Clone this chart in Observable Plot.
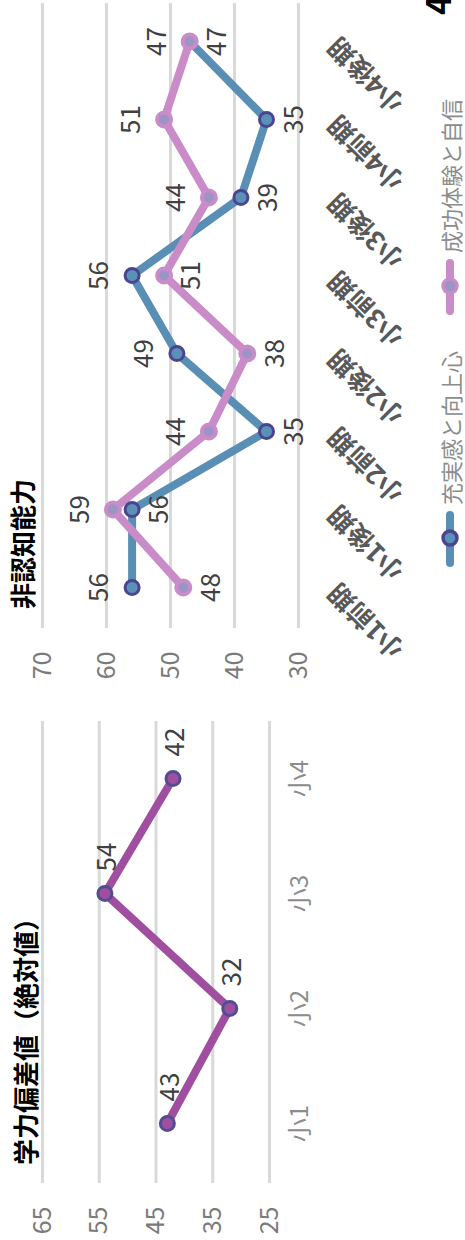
<!DOCTYPE html>
<html><head><meta charset="utf-8">
<script src="https://cdn.jsdelivr.net/npm/d3@7"></script>
<script src="https://cdn.jsdelivr.net/npm/@observablehq/plot@0.6"></script>
<style>
html,body{margin:0;padding:0;background:#fff;overflow:hidden;width:465px;height:1240px;}
#frame{position:absolute;left:0;top:0;width:1240px;height:465px;transform-origin:0 0;transform:translate(0px,1240px) rotate(-90deg);background:#fff;overflow:hidden;font-family:"Noto Sans CJK JP","Noto Sans",sans-serif;}
.chart{position:absolute;top:0;}
.title{position:absolute;font-weight:bold;font-size:26px;color:#000;line-height:1;white-space:nowrap;}
.legend{position:absolute;top:438px;height:24px;display:flex;align-items:center;font-size:22px;color:#8c8c8c;white-space:nowrap;line-height:1;}
.legend svg{display:block;margin-right:6px;}
.cut{position:absolute;font-weight:bold;font-size:34px;line-height:1;color:#000;}
</style></head>
<body><div id="frame"></div>
<script>
// ---- 学力偏差値（絶対値） ----
const gakuryokuTitle = "学力偏差値（絶対値）";
const gakuryokuCategories = ["小1", "小2", "小3", "小4"];
const gakuryokuValues = [43, 32, 54, 42];
const gakuryokuTicks = [25, 35, 45, 55, 65];

// ---- 非認知能力 ----
const hininchiTitle = "非認知能力";
const hininchiCategories = ["小1前期", "小1後期", "小2前期", "小2後期", "小3前期", "小3後期", "小4前期", "小4後期"];
const seriesNames = ["充実感と向上心", "成功体験と自信"];
const jujitsuValues = [56, 56, 35, 49, 56, 39, 35, 47];
const seikouValues = [48, 59, 44, 38, 51, 44, 51, 47];
const hininchiTicks = [30, 40, 50, 60, 70];

const FONT = '"Noto Sans CJK JP","Noto Sans",sans-serif';
const frame = document.getElementById("frame");

function addDiv(cls, left, top, html) {
  const d = document.createElement("div");
  d.className = cls;
  d.style.left = left + "px";
  if (top !== null) d.style.top = top + "px";
  d.innerHTML = html;
  frame.appendChild(d);
  return d;
}

// Chart A
const gData = gakuryokuCategories.map((c, i) => ({cat: c, value: gakuryokuValues[i]}));
const chartA = Plot.plot({
  width: 570, height: 465,
  marginLeft: 57, marginRight: 51, marginTop: 42, marginBottom: 196,
  style: {fontFamily: FONT, background: "transparent", overflow: "visible"},
  x: {type: "point", domain: gakuryokuCategories, padding: 0.5},
  y: {domain: [25, 65]},
  marks: [
    Plot.gridY(gakuryokuTicks, {stroke: "#d9d9d9", strokeOpacity: 1, strokeWidth: 3}),
    Plot.axisY(gakuryokuTicks, {tickSize: 0, tickPadding: 24, fontSize: 25, fill: "#7a7a7a", label: null}),
    Plot.axisX({ticks: [], label: null}),
    Plot.text(gakuryokuCategories, {x: d => d, frameAnchor: "bottom", dy: 38, fontSize: 24, fill: "#8c8c8c"}),
    Plot.line(gData, {x: "cat", y: "value", stroke: "#a04fa0", strokeWidth: 8}),
    Plot.dot(gData, {x: "cat", y: "value", r: 7, fill: "#a04fa0", stroke: "#4f4f8f", strokeWidth: 3}),
    Plot.text(gData, {x: "cat", y: "value", text: d => String(d.value), textAnchor: "start", dx: 22, dy: 3, fontSize: 26, fill: "#404040"})
  ]
});
const wa = document.createElement("div");
wa.className = "chart"; wa.style.left = "0px"; wa.style.width = "570px";
wa.appendChild(chartA); frame.appendChild(wa);

// Chart B
const blue = {line: "#5a8fb5", fill: "#5b90b8", stroke: "#4b4490"};
const pink = {line: "#c98cc9", fill: "#9a95c4", stroke: "#c98cc9"};
const bData = hininchiCategories.flatMap((c, i) => [
  {cat: c, series: seriesNames[0], value: jujitsuValues[i], other: seikouValues[i], pink: false},
  {cat: c, series: seriesNames[1], value: seikouValues[i], other: jujitsuValues[i], pink: true}
]);
bData.forEach(d => { d.above = d.value > d.other || (d.value === d.other && d.pink); });
const blueData = bData.filter(d => !d.pink);
const pinkData = bData.filter(d => d.pink);
const chartB = Plot.plot({
  width: 680, height: 465,
  marginLeft: 52, marginRight: 3, marginTop: 42, marginBottom: 167,
  style: {fontFamily: FONT, background: "transparent", overflow: "visible"},
  x: {type: "point", domain: hininchiCategories, padding: 0.5},
  y: {domain: [30, 70]},
  marks: [
    Plot.gridY(hininchiTicks, {stroke: "#d9d9d9", strokeOpacity: 1, strokeWidth: 3}),
    Plot.axisY(hininchiTicks, {tickSize: 0, tickPadding: 24, fontSize: 25, fill: "#7a7a7a", label: null}),
    Plot.axisX({ticks: [], label: null}),
    Plot.text(hininchiCategories, {x: d => d, frameAnchor: "bottom", dy: 35, rotate: -45, textAnchor: "end", lineAnchor: "middle", fontSize: 26, fontWeight: "bold", fill: "#595959"}),
    Plot.line(blueData, {x: "cat", y: "value", stroke: blue.line, strokeWidth: 8}),
    Plot.line(pinkData, {x: "cat", y: "value", stroke: pink.line, strokeWidth: 8}),
    Plot.dot(blueData, {x: "cat", y: "value", r: 7, fill: blue.fill, stroke: blue.stroke, strokeWidth: 3}),
    Plot.dot(pinkData, {x: "cat", y: "value", r: 7, fill: pink.fill, stroke: pink.stroke, strokeWidth: 4}),
    Plot.text(bData.filter(d => d.above), {x: "cat", y: "value", text: d => String(d.value), dy: -32, fontSize: 26, fill: "#404040"}),
    Plot.text(bData.filter(d => !d.above), {x: "cat", y: "value", text: d => String(d.value), dy: 28, fontSize: 26, fill: "#404040"})
  ]
});
const wb = document.createElement("div");
wb.className = "chart"; wb.style.left = "560px"; wb.style.width = "680px";
wb.appendChild(chartB); frame.appendChild(wb);

// Titles
addDiv("title", 75, 12, gakuryokuTitle);
addDiv("title", 631, 9, hininchiTitle);

// Legend
function swatch(c) {
  return `<svg width="56" height="24" viewBox="0 0 56 24"><line x1="4" y1="12" x2="52" y2="12" stroke="${c.line}" stroke-width="8" stroke-linecap="round"/><circle cx="29" cy="12" r="7" fill="${c.fill}" stroke="${c.stroke}" stroke-width="3.5"/></svg>`;
}
addDiv("legend", 673, null, swatch(blue) + "<span>" + seriesNames[0] + "</span>");
addDiv("legend", 925, null, swatch(pink) + "<span>" + seriesNames[1] + "</span>");

// partially visible character at the right edge (cut off in the reference too)
addDiv("cut", 1225, 420, "4");
</script>
</body></html>
